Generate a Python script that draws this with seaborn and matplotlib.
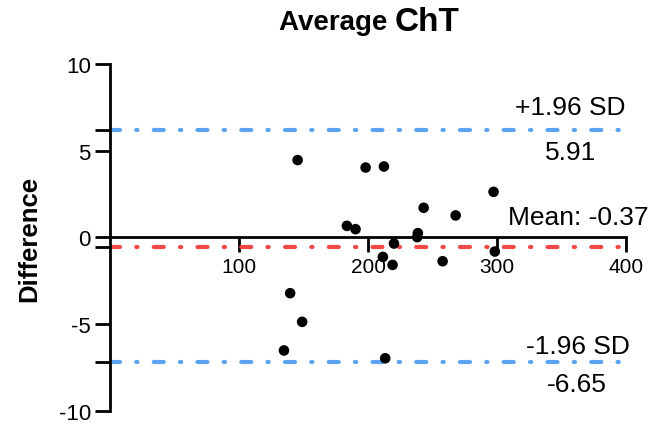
import pandas as pd
import seaborn as sns
import matplotlib.pyplot as plt

# Bland-Altman data
average = [145.3, 198.0, 212.2, 297.2, 243.0, 267.8, 183.5, 190.2, 238.5, 238.0,
           220.0, 211.4, 218.9, 257.7, 298.2, 139.5, 148.8, 134.7, 213.2]
difference = [4.46, 4.03, 4.09, 2.63, 1.71, 1.27, 0.67, 0.48, 0.25, 0.02,
              -0.35, -1.12, -1.58, -1.37, -0.81, -3.21, -4.86, -6.51, -6.96]

upper_loa = 6.2
mean_diff = -0.55
lower_loa = -7.2
labels = ["+1.96 SD", "5.91", "Mean: -0.37", "-1.96 SD", "-6.65"]

df = pd.DataFrame({"Average": average, "Difference": difference})

sns.set_style("ticks")
plt.rcParams["font.family"] = ["Liberation Sans", "DejaVu Sans"]
plt.rcParams["axes.unicode_minus"] = False
plt.rcParams["text.color"] = "black"

fig = plt.figure(figsize=(6.64, 4.27), dpi=100)
ax = fig.add_axes([0.166, 0.035, 0.777, 0.813])

blue = "#5ca4f2"
red = "#f24848"
dash = (0, (2.4, 3.9, 0.3, 3.9))
for yv, col in [(upper_loa, blue), (lower_loa, blue), (mean_diff, red)]:
    ax.plot([0, 395], [yv, yv], color=col, lw=3, linestyle=dash,
            dash_capstyle="round", zorder=1)

sns.scatterplot(data=df, x="Average", y="Difference", ax=ax, color="black",
                s=58, edgecolor="none", zorder=3, legend=False)

ax.set_xlim(0, 400)
ax.set_ylim(-10, 10)
ax.spines["bottom"].set_position(("data", 0))
ax.spines["top"].set_visible(False)
ax.spines["right"].set_visible(False)
for s in ["left", "bottom"]:
    ax.spines[s].set_linewidth(2)
    ax.spines[s].set_color("black")
    ax.spines[s].set_zorder(2)

ax.set_xticks([100, 200, 300, 400])
ax.set_yticks([-10, -5, 0, 5, 10])
ax.set_yticks([lower_loa, mean_diff, upper_loa], minor=True)
ax.tick_params(axis="both", which="both", width=2, length=10.5, labelsize=15,
               colors="black", labelcolor="black", pad=3.5)
ax.tick_params(axis="y", labelsize=16)

ax.set_xlabel("")
ax.set_ylabel("Difference", fontsize=18.5, fontweight="bold", color="black")
ax.yaxis.set_label_coords(-0.134, 0.5)
fig.text(0.595, 0.947, "Average ", fontsize=20, fontweight="bold", ha="right", va="center")
fig.text(0.595, 0.947, "ChT", fontsize=24, fontweight="bold", ha="left", va="center")

ax.text(357, 7.5, labels[0], fontsize=19, ha="center", va="center", clip_on=False)
ax.text(357, 4.9, labels[1], fontsize=19, ha="center", va="center", clip_on=False)
ax.text(363, 1.17, labels[2], fontsize=19, ha="center", va="center", clip_on=False)
ax.text(363, -6.26, labels[3], fontsize=19, ha="center", va="center", clip_on=False)
ax.text(362, -8.45, labels[4], fontsize=19, ha="center", va="center", clip_on=False)

fig.savefig("out.png", dpi=100)
